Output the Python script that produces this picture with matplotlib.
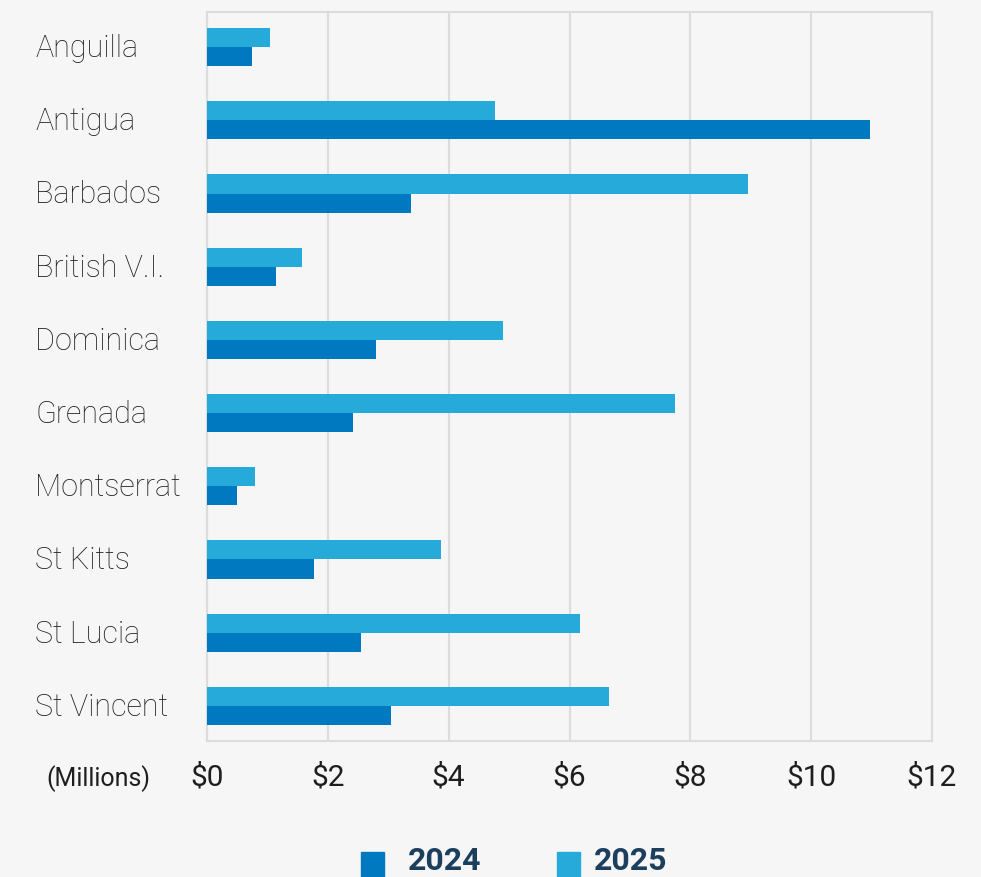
import matplotlib.pyplot as plt
import matplotlib.transforms as mtransforms
import numpy as np

plt.rcParams['font.family'] = ['Roboto', 'DejaVu Sans']

countries = ["Anguilla", "Antigua", "Barbados", "British V.I.", "Dominica",
             "Grenada", "Montserrat", "St Kitts", "St Lucia", "St Vincent"]
values_2024 = [0.75, 10.97, 3.38, 1.14, 2.8, 2.42, 0.5, 1.77, 2.55, 3.05]
values_2025 = [1.04, 4.76, 8.96, 1.57, 4.9, 7.74, 0.8, 3.88, 6.18, 6.66]
xticks = [0, 2, 4, 6, 8, 10, 12]
xtick_labels = ["$0", "$2", "$4", "$6", "$8", "$10", "$12"]

c2024 = "#0079c1"
c2025 = "#25aad9"
bg = "#f6f6f6"
grid = "#dcdcdc"
txt = "#1e1e1e"

W, H = 981, 877
fig = plt.figure(figsize=(W / 100, H / 100), dpi=100, facecolor=bg)
ax = fig.add_axes([207 / W, 1 - 741 / H, (932 - 207) / W, (741 - 12) / H])
ax.set_facecolor(bg)

y = np.arange(len(countries))
h = 0.26
ax.barh(y - h / 2, values_2025, height=h, color=c2025, zorder=3)
ax.barh(y + h / 2, values_2024, height=h, color=c2024, zorder=3)

ax.set_xlim(0, 12)
ax.set_ylim(len(countries) - 0.52, -0.48)
ax.set_xticks(xticks)
ax.set_xticklabels([])
ax.set_yticks([])
ax.tick_params(length=0)
ax.grid(axis="x", color=grid, linewidth=1.5, zorder=0)
for s in ax.spines.values():
    s.set_color(grid)
    s.set_linewidth(1.5)

# category labels, left aligned
trans = mtransforms.blended_transform_factory(fig.transFigure, ax.transData)
for i, name in enumerate(countries):
    fig.text(35 / W, i + 0.02, name, transform=trans, ha="left", va="center",
             fontsize=22, color=txt, fontweight="light")

# x tick labels
tx = mtransforms.blended_transform_factory(ax.transData, fig.transFigure)
for v, lab in zip(xticks, xtick_labels):
    fig.text(v, 1 - 786 / H, lab, transform=tx, ha="center", va="baseline",
             fontsize=21.5, color=txt)
fig.text(98 / W, 1 - 786 / H, "(Millions)", ha="center", va="baseline",
         fontsize=18, color=txt)

# legend
lb = 1.5 / H
for sx, tx0, col, lab in [(361, 408, c2024, "2024"), (557, 594, c2025, "2025")]:
    fig.patches.append(plt.Rectangle((sx / W, 0), 23 / W, 25 / H,
                                     transform=fig.transFigure, color=col))
    fig.text(tx0 / W, lb, lab, ha="left", va="bottom", fontsize=23,
             fontweight="bold", color="#1d3f5e")

fig.savefig("out.png", dpi=100, facecolor=bg)
